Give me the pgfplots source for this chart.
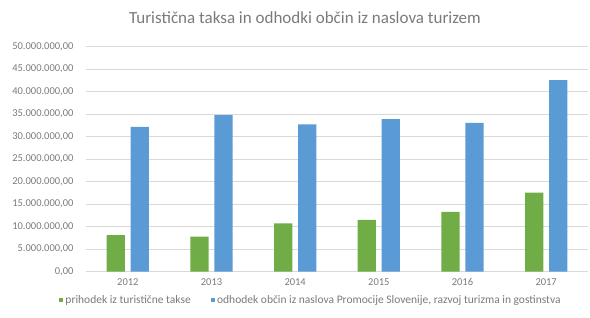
\documentclass[border=0pt]{standalone}
\usepackage{pgfplots}
\pgfplotsset{compat=1.18}
\usepackage{fontspec}
\setmainfont{Carlito}
\definecolor{cgreen}{HTML}{70AD47}
\definecolor{cblue}{HTML}{5B9BD5}
\definecolor{cgrid}{HTML}{D9D9D9}
\definecolor{ctext}{HTML}{7A7A7A}
\begin{document}
\begin{tikzpicture}
\path[use as bounding box] (0pt,0pt) rectangle (590pt,317pt);
\node[text=ctext,font=\fontsize{17}{19}\selectfont] at (305pt,299pt) {Turistična taksa in odhodki občin iz naslova turizem};
\begin{axis}[
  at={(86pt,45.3pt)}, anchor=south west,
  scale only axis, width=502pt, height=225pt,
  xmin=-0.5, xmax=5.5, ymin=0, ymax=50000000,
  xtick={0,1,2,3,4,5},
  xticklabels={2012,2013,2014,2015,2016,2017},
  ytick={0,5000000,10000000,15000000,20000000,25000000,30000000,35000000,40000000,45000000,50000000},
  scaled y ticks=false,
  yticklabel style={xshift=-9pt, /pgf/number format/.cd, fixed, fixed zerofill, precision=2, 1000 sep={.}, use comma, assume math mode=true},
  xticklabel style={yshift=-3pt},
  ymajorgrids, grid style={cgrid, line width=0.7pt},
  axis line style={draw=none},
  major tick length=0pt,
  tick label style={text=ctext, font=\fontsize{10.5}{11}\selectfont},
  ybar, bar width=18.3pt,
  legend style={at={(0.448,-0.085)}, anchor=north, draw=none, fill=none, font=\fontsize{11.5}{12}\selectfont, text=ctext, legend columns=2, column sep=0pt, /tikz/every even column/.append style={column sep=18pt}, nodes={inner xsep=2pt}},
  legend image code/.code={\fill[#1] (0pt,-2.2pt) rectangle (4.4pt,2.2pt);},
]
\addplot[fill=cgreen, draw=none, bar shift=-12pt] coordinates {(0,8150000) (1,7800000) (2,10750000) (3,11500000) (4,13300000) (5,17550000)};
\addlegendentry{prihodek iz turistične takse}
\addplot[fill=cblue, draw=none, bar shift=12pt] coordinates {(0,32200000) (1,34800000) (2,32750000) (3,33900000) (4,33100000) (5,42600000)};
\addlegendentry{odhodek občin iz naslova Promocije Slovenije, razvoj turizma in gostinstva}
\end{axis}
\end{tikzpicture}
\end{document}
